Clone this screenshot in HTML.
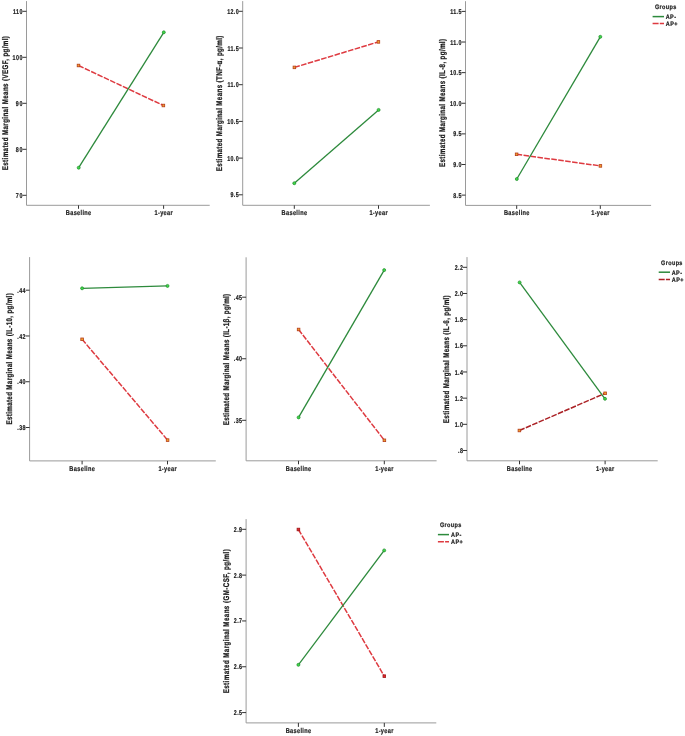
<!DOCTYPE html>
<html><head><meta charset="utf-8"><style>
html,body{margin:0;padding:0;background:#fff;}
body{width:685px;height:736px;overflow:hidden;}
svg{display:block;will-change:transform;filter:blur(0.3px);}
text{font-family:"Liberation Sans",sans-serif;font-weight:bold;fill:#1a1a1a;stroke:#1a1a1a;stroke-width:0.2px;text-rendering:geometricPrecision;}
.tk{font-size:7px;text-anchor:end;}
.xl{font-size:7px;text-anchor:middle;}
.yl{font-size:8.2px;text-anchor:middle;stroke-width:0.25px;}
.lg{font-size:6.5px;}
</style></head><body>
<svg width="685" height="736" viewBox="0 0 685 736">
<rect width="685" height="736" fill="#fff"/>
<g>
<path d="M26.5 1.1V205.3H209.7" fill="none" stroke="#9a9a9a" stroke-width="1"/>
<path d="M22.5 11.3H26.5" stroke="#333" stroke-width="1"/>
<text transform="translate(22.40 13.85) scale(0.76 1)" class="tk" textLength="12.48" lengthAdjust="spacing">110</text>
<path d="M22.5 57.3H26.5" stroke="#333" stroke-width="1"/>
<text transform="translate(22.40 59.85) scale(0.76 1)" class="tk" textLength="12.91" lengthAdjust="spacing">100</text>
<path d="M22.5 103.3H26.5" stroke="#333" stroke-width="1"/>
<text transform="translate(22.40 105.85) scale(0.76 1)" class="tk" textLength="8.61" lengthAdjust="spacing">90</text>
<path d="M22.5 149.3H26.5" stroke="#333" stroke-width="1"/>
<text transform="translate(22.40 151.85) scale(0.76 1)" class="tk" textLength="8.61" lengthAdjust="spacing">80</text>
<path d="M22.5 195.3H26.5" stroke="#333" stroke-width="1"/>
<text transform="translate(22.40 197.85) scale(0.76 1)" class="tk" textLength="8.61" lengthAdjust="spacing">70</text>
<path d="M78.5 205.3V208.8" stroke="#333" stroke-width="1"/>
<text transform="translate(78.50 214.70) scale(0.8 1)" class="xl" textLength="31.85" lengthAdjust="spacing">Baseline</text>
<path d="M163.6 205.3V208.8" stroke="#333" stroke-width="1"/>
<text transform="translate(163.60 214.70) scale(0.8 1)" class="xl" textLength="22.82" lengthAdjust="spacing">1-year</text>
<text transform="translate(7.55,103.15) rotate(-90) scale(0.76,1)" class="yl" textLength="176.58" lengthAdjust="spacing">Estimated Marginal Means (VEGF, pg/ml)</text>
<path d="M78.5 65.5L163.4 105.5" stroke="#de3a40" stroke-width="1.5" stroke-dasharray="5.6 1.4" fill="none"/>
<path d="M78.7 167.7L163.8 32.3" stroke="#2d8a3c" stroke-width="1.3" fill="none"/>
<rect x="77.2" y="64.2" width="2.6" height="2.6" fill="#f2a02a" stroke="#b43c1c" stroke-width="0.8"/>
<rect x="162.1" y="104.2" width="2.6" height="2.6" fill="#f2a02a" stroke="#b43c1c" stroke-width="0.8"/>
<circle cx="78.7" cy="167.7" r="1.5" fill="#3fd84a" stroke="#1f8a2a" stroke-width="0.7"/>
<circle cx="163.8" cy="32.3" r="1.5" fill="#3fd84a" stroke="#1f8a2a" stroke-width="0.7"/>
</g>
<g>
<path d="M242.7 1.1V205.3H429.9" fill="none" stroke="#9a9a9a" stroke-width="1"/>
<path d="M238.7 11.3H242.7" stroke="#333" stroke-width="1"/>
<text transform="translate(238.60 13.85) scale(0.76 1)" class="tk" textLength="15.06" lengthAdjust="spacing">12.0</text>
<path d="M238.7 48.0H242.7" stroke="#333" stroke-width="1"/>
<text transform="translate(238.60 50.55) scale(0.76 1)" class="tk" textLength="14.63" lengthAdjust="spacing">11.5</text>
<path d="M238.7 84.7H242.7" stroke="#333" stroke-width="1"/>
<text transform="translate(238.60 87.25) scale(0.76 1)" class="tk" textLength="14.63" lengthAdjust="spacing">11.0</text>
<path d="M238.7 121.4H242.7" stroke="#333" stroke-width="1"/>
<text transform="translate(238.60 123.95) scale(0.76 1)" class="tk" textLength="15.06" lengthAdjust="spacing">10.5</text>
<path d="M238.7 158.10000000000002H242.7" stroke="#333" stroke-width="1"/>
<text transform="translate(238.60 160.65) scale(0.76 1)" class="tk" textLength="15.06" lengthAdjust="spacing">10.0</text>
<path d="M238.7 194.8H242.7" stroke="#333" stroke-width="1"/>
<text transform="translate(238.60 197.35) scale(0.76 1)" class="tk" textLength="10.76" lengthAdjust="spacing">9.5</text>
<path d="M294.3 205.3V208.8" stroke="#333" stroke-width="1"/>
<text transform="translate(294.30 214.70) scale(0.8 1)" class="xl" textLength="31.85" lengthAdjust="spacing">Baseline</text>
<path d="M378.5 205.3V208.8" stroke="#333" stroke-width="1"/>
<text transform="translate(378.50 214.70) scale(0.8 1)" class="xl" textLength="22.82" lengthAdjust="spacing">1-year</text>
<text transform="translate(221.7,103.4) rotate(-90) scale(0.76,1)" class="yl" textLength="178.29" lengthAdjust="spacing">Estimated Marginal Means (TNF-α, pg/ml)</text>
<path d="M294.4 67.4L378.4 41.9" stroke="#de3a40" stroke-width="1.5" stroke-dasharray="5.6 1.4" fill="none"/>
<path d="M294.3 183.2L378.6 109.9" stroke="#2d8a3c" stroke-width="1.3" fill="none"/>
<rect x="293.1" y="66.1" width="2.6" height="2.6" fill="#f2a02a" stroke="#b43c1c" stroke-width="0.8"/>
<rect x="377.1" y="40.6" width="2.6" height="2.6" fill="#f2a02a" stroke="#b43c1c" stroke-width="0.8"/>
<circle cx="294.3" cy="183.2" r="1.5" fill="#3fd84a" stroke="#1f8a2a" stroke-width="0.7"/>
<circle cx="378.6" cy="109.9" r="1.5" fill="#3fd84a" stroke="#1f8a2a" stroke-width="0.7"/>
</g>
<g>
<path d="M465.5 1.2V205.4H651.1" fill="none" stroke="#9a9a9a" stroke-width="1"/>
<path d="M461.5 11.4H465.5" stroke="#333" stroke-width="1"/>
<text transform="translate(461.40 13.95) scale(0.76 1)" class="tk" textLength="14.63" lengthAdjust="spacing">11.5</text>
<path d="M461.5 42.02H465.5" stroke="#333" stroke-width="1"/>
<text transform="translate(461.40 44.57) scale(0.76 1)" class="tk" textLength="14.63" lengthAdjust="spacing">11.0</text>
<path d="M461.5 72.64H465.5" stroke="#333" stroke-width="1"/>
<text transform="translate(461.40 75.19) scale(0.76 1)" class="tk" textLength="15.06" lengthAdjust="spacing">10.5</text>
<path d="M461.5 103.26H465.5" stroke="#333" stroke-width="1"/>
<text transform="translate(461.40 105.81) scale(0.76 1)" class="tk" textLength="15.06" lengthAdjust="spacing">10.0</text>
<path d="M461.5 133.88H465.5" stroke="#333" stroke-width="1"/>
<text transform="translate(461.40 136.43) scale(0.76 1)" class="tk" textLength="10.76" lengthAdjust="spacing">9.5</text>
<path d="M461.5 164.5H465.5" stroke="#333" stroke-width="1"/>
<text transform="translate(461.40 167.05) scale(0.76 1)" class="tk" textLength="10.76" lengthAdjust="spacing">9.0</text>
<path d="M461.5 195.12H465.5" stroke="#333" stroke-width="1"/>
<text transform="translate(461.40 197.67) scale(0.76 1)" class="tk" textLength="10.76" lengthAdjust="spacing">8.5</text>
<path d="M516.7 205.4V208.9" stroke="#333" stroke-width="1"/>
<text transform="translate(516.70 214.80) scale(0.8 1)" class="xl" textLength="31.85" lengthAdjust="spacing">Baseline</text>
<path d="M600.3 205.4V208.9" stroke="#333" stroke-width="1"/>
<text transform="translate(600.30 214.80) scale(0.8 1)" class="xl" textLength="22.82" lengthAdjust="spacing">1-year</text>
<text transform="translate(444.6,103.0) rotate(-90) scale(0.76,1)" class="yl" textLength="168.42" lengthAdjust="spacing">Estimated Marginal Means (IL-8, pg/ml)</text>
<path d="M516.6 154.3L600.4 165.9" stroke="#de3a40" stroke-width="1.5" stroke-dasharray="5.6 1.4" fill="none"/>
<path d="M516.8 179.0L600.3 36.8" stroke="#2d8a3c" stroke-width="1.3" fill="none"/>
<rect x="515.3" y="153.0" width="2.6" height="2.6" fill="#f2a02a" stroke="#b43c1c" stroke-width="0.8"/>
<rect x="599.1" y="164.6" width="2.6" height="2.6" fill="#f2a02a" stroke="#b43c1c" stroke-width="0.8"/>
<circle cx="516.8" cy="179.0" r="1.5" fill="#3fd84a" stroke="#1f8a2a" stroke-width="0.7"/>
<circle cx="600.3" cy="36.8" r="1.5" fill="#3fd84a" stroke="#1f8a2a" stroke-width="0.7"/>
<text transform="translate(654.90 9.15) scale(0.85 1)" class="lg" textLength="25.10" lengthAdjust="spacing">Groups</text>
<path d="M652.6 16.6H664" stroke="#2d8a3c" stroke-width="1.5"/>
<path d="M652.6 23.6H664" stroke="#de3a40" stroke-width="1.5" stroke-dasharray="6 1.2"/>
<text transform="translate(665.70 18.95) scale(0.85 1)" class="lg" textLength="12.16" lengthAdjust="spacing">AP-</text>
<text transform="translate(665.70 26.05) scale(0.85 1)" class="lg" textLength="13.93" lengthAdjust="spacing">AP+</text>
</g>
<g>
<path d="M29.6 257.1V460.9H215.8" fill="none" stroke="#9a9a9a" stroke-width="1"/>
<path d="M25.6 290.2H29.6" stroke="#333" stroke-width="1"/>
<text transform="translate(25.50 292.75) scale(0.76 1)" class="tk" textLength="10.76" lengthAdjust="spacing">.44</text>
<path d="M25.6 335.96999999999997H29.6" stroke="#333" stroke-width="1"/>
<text transform="translate(25.50 338.52) scale(0.76 1)" class="tk" textLength="10.76" lengthAdjust="spacing">.42</text>
<path d="M25.6 381.74H29.6" stroke="#333" stroke-width="1"/>
<text transform="translate(25.50 384.29) scale(0.76 1)" class="tk" textLength="10.76" lengthAdjust="spacing">.40</text>
<path d="M25.6 427.51H29.6" stroke="#333" stroke-width="1"/>
<text transform="translate(25.50 430.06) scale(0.76 1)" class="tk" textLength="10.76" lengthAdjust="spacing">.38</text>
<path d="M82.1 460.9V464.4" stroke="#333" stroke-width="1"/>
<text transform="translate(82.10 470.80) scale(0.8 1)" class="xl" textLength="31.85" lengthAdjust="spacing">Baseline</text>
<path d="M167.5 460.9V464.4" stroke="#333" stroke-width="1"/>
<text transform="translate(167.50 470.80) scale(0.8 1)" class="xl" textLength="22.82" lengthAdjust="spacing">1-year</text>
<text transform="translate(12.2,358.85) rotate(-90) scale(0.76,1)" class="yl" textLength="172.63" lengthAdjust="spacing">Estimated Marginal Means (IL-10, pg/ml)</text>
<path d="M82.1 339.3L167.6 440.1" stroke="#de3a40" stroke-width="1.5" stroke-dasharray="5.6 1.4" fill="none"/>
<path d="M82.1 288.3L167.5 285.9" stroke="#2d8a3c" stroke-width="1.3" fill="none"/>
<rect x="80.8" y="338.0" width="2.6" height="2.6" fill="#f2a02a" stroke="#b43c1c" stroke-width="0.8"/>
<rect x="166.3" y="438.8" width="2.6" height="2.6" fill="#f2a02a" stroke="#b43c1c" stroke-width="0.8"/>
<circle cx="82.1" cy="288.3" r="1.5" fill="#3fd84a" stroke="#1f8a2a" stroke-width="0.7"/>
<circle cx="167.5" cy="285.9" r="1.5" fill="#3fd84a" stroke="#1f8a2a" stroke-width="0.7"/>
</g>
<g>
<path d="M246.1 257.3V460.8H436.6" fill="none" stroke="#9a9a9a" stroke-width="1"/>
<path d="M242.1 297.2H246.1" stroke="#333" stroke-width="1"/>
<text transform="translate(242.00 299.75) scale(0.76 1)" class="tk" textLength="10.76" lengthAdjust="spacing">.45</text>
<path d="M242.1 358.75H246.1" stroke="#333" stroke-width="1"/>
<text transform="translate(242.00 361.30) scale(0.76 1)" class="tk" textLength="10.76" lengthAdjust="spacing">.40</text>
<path d="M242.1 420.29999999999995H246.1" stroke="#333" stroke-width="1"/>
<text transform="translate(242.00 422.85) scale(0.76 1)" class="tk" textLength="10.76" lengthAdjust="spacing">.35</text>
<path d="M298.5 460.8V464.3" stroke="#333" stroke-width="1"/>
<text transform="translate(298.50 470.70) scale(0.8 1)" class="xl" textLength="31.85" lengthAdjust="spacing">Baseline</text>
<path d="M384.3 460.8V464.3" stroke="#333" stroke-width="1"/>
<text transform="translate(384.30 470.70) scale(0.8 1)" class="xl" textLength="22.82" lengthAdjust="spacing">1-year</text>
<text transform="translate(229.1,359.6) rotate(-90) scale(0.76,1)" class="yl" textLength="173.03" lengthAdjust="spacing">Estimated Marginal Means (IL-1β, pg/ml)</text>
<path d="M298.6 329.5L384.4 440.3" stroke="#de3a40" stroke-width="1.5" stroke-dasharray="5.6 1.4" fill="none"/>
<path d="M298.6 417.4L384.2 270.1" stroke="#2d8a3c" stroke-width="1.3" fill="none"/>
<rect x="297.3" y="328.2" width="2.6" height="2.6" fill="#f2a02a" stroke="#b43c1c" stroke-width="0.8"/>
<rect x="383.1" y="439.0" width="2.6" height="2.6" fill="#f2a02a" stroke="#b43c1c" stroke-width="0.8"/>
<circle cx="298.6" cy="417.4" r="1.5" fill="#3fd84a" stroke="#1f8a2a" stroke-width="0.7"/>
<circle cx="384.2" cy="270.1" r="1.5" fill="#3fd84a" stroke="#1f8a2a" stroke-width="0.7"/>
</g>
<g>
<path d="M467.0 257.1V460.8H657.7" fill="none" stroke="#9a9a9a" stroke-width="1"/>
<path d="M463.0 267.3H467.0" stroke="#333" stroke-width="1"/>
<text transform="translate(462.90 269.85) scale(0.76 1)" class="tk" textLength="10.76" lengthAdjust="spacing">2.2</text>
<path d="M463.0 293.47H467.0" stroke="#333" stroke-width="1"/>
<text transform="translate(462.90 296.02) scale(0.76 1)" class="tk" textLength="10.76" lengthAdjust="spacing">2.0</text>
<path d="M463.0 319.64H467.0" stroke="#333" stroke-width="1"/>
<text transform="translate(462.90 322.19) scale(0.76 1)" class="tk" textLength="10.76" lengthAdjust="spacing">1.8</text>
<path d="M463.0 345.81H467.0" stroke="#333" stroke-width="1"/>
<text transform="translate(462.90 348.36) scale(0.76 1)" class="tk" textLength="10.76" lengthAdjust="spacing">1.6</text>
<path d="M463.0 371.98H467.0" stroke="#333" stroke-width="1"/>
<text transform="translate(462.90 374.53) scale(0.76 1)" class="tk" textLength="10.76" lengthAdjust="spacing">1.4</text>
<path d="M463.0 398.15000000000003H467.0" stroke="#333" stroke-width="1"/>
<text transform="translate(462.90 400.70) scale(0.76 1)" class="tk" textLength="10.76" lengthAdjust="spacing">1.2</text>
<path d="M463.0 424.32000000000005H467.0" stroke="#333" stroke-width="1"/>
<text transform="translate(462.90 426.87) scale(0.76 1)" class="tk" textLength="10.76" lengthAdjust="spacing">1.0</text>
<path d="M463.0 450.49H467.0" stroke="#333" stroke-width="1"/>
<text transform="translate(462.90 453.04) scale(0.76 1)" class="tk" textLength="6.45" lengthAdjust="spacing">.8</text>
<path d="M519.5 460.8V464.3" stroke="#333" stroke-width="1"/>
<text transform="translate(519.50 470.70) scale(0.8 1)" class="xl" textLength="31.85" lengthAdjust="spacing">Baseline</text>
<path d="M605.1 460.8V464.3" stroke="#333" stroke-width="1"/>
<text transform="translate(605.10 470.70) scale(0.8 1)" class="xl" textLength="22.82" lengthAdjust="spacing">1-year</text>
<text transform="translate(449.3,359.25) rotate(-90) scale(0.76,1)" class="yl" textLength="168.16" lengthAdjust="spacing">Estimated Marginal Means (IL-6, pg/ml)</text>
<path d="M519.4 430.5L605.1 393.3" stroke="#ab2125" stroke-width="1.5" stroke-dasharray="5.6 1.4" fill="none"/>
<path d="M519.6 282.4L605.0 398.8" stroke="#2d8a3c" stroke-width="1.3" fill="none"/>
<rect x="518.1" y="429.2" width="2.6" height="2.6" fill="#f2a02a" stroke="#b43c1c" stroke-width="0.8"/>
<rect x="603.8" y="392.0" width="2.6" height="2.6" fill="#f2a02a" stroke="#b43c1c" stroke-width="0.8"/>
<circle cx="519.6" cy="282.4" r="1.5" fill="#3fd84a" stroke="#1f8a2a" stroke-width="0.7"/>
<circle cx="605.0" cy="398.8" r="1.5" fill="#3fd84a" stroke="#1f8a2a" stroke-width="0.7"/>
<text transform="translate(661.10 264.65) scale(0.85 1)" class="lg" textLength="25.10" lengthAdjust="spacing">Groups</text>
<path d="M658.7 272.2H670" stroke="#2d8a3c" stroke-width="1.5"/>
<path d="M658.7 279.4H670" stroke="#ab2125" stroke-width="1.5" stroke-dasharray="6 1.2"/>
<text transform="translate(671.70 274.85) scale(0.85 1)" class="lg" textLength="12.16" lengthAdjust="spacing">AP-</text>
<text transform="translate(671.70 281.95) scale(0.85 1)" class="lg" textLength="13.93" lengthAdjust="spacing">AP+</text>
</g>
<g>
<path d="M246.1 519.1V722.9H436.3" fill="none" stroke="#9a9a9a" stroke-width="1"/>
<path d="M242.1 529.3H246.1" stroke="#333" stroke-width="1"/>
<text transform="translate(242.00 531.85) scale(0.76 1)" class="tk" textLength="10.76" lengthAdjust="spacing">2.9</text>
<path d="M242.1 575.12H246.1" stroke="#333" stroke-width="1"/>
<text transform="translate(242.00 577.67) scale(0.76 1)" class="tk" textLength="10.76" lengthAdjust="spacing">2.8</text>
<path d="M242.1 620.9399999999999H246.1" stroke="#333" stroke-width="1"/>
<text transform="translate(242.00 623.49) scale(0.76 1)" class="tk" textLength="10.76" lengthAdjust="spacing">2.7</text>
<path d="M242.1 666.76H246.1" stroke="#333" stroke-width="1"/>
<text transform="translate(242.00 669.31) scale(0.76 1)" class="tk" textLength="10.76" lengthAdjust="spacing">2.6</text>
<path d="M242.1 712.5799999999999H246.1" stroke="#333" stroke-width="1"/>
<text transform="translate(242.00 715.13) scale(0.76 1)" class="tk" textLength="10.76" lengthAdjust="spacing">2.5</text>
<path d="M298.4 722.9V726.9" stroke="#333" stroke-width="1"/>
<text transform="translate(298.40 733.10) scale(0.8 1)" class="xl" textLength="31.85" lengthAdjust="spacing">Baseline</text>
<path d="M384.3 722.9V726.9" stroke="#333" stroke-width="1"/>
<text transform="translate(384.30 733.10) scale(0.8 1)" class="xl" textLength="22.82" lengthAdjust="spacing">1-year</text>
<text transform="translate(228.5,621.3) rotate(-90) scale(0.76,1)" class="yl" textLength="189.61" lengthAdjust="spacing">Estimated Marginal Means (GM-CSF, pg/ml)</text>
<path d="M298.4 529.5L384.3 676.2" stroke="#de3a40" stroke-width="1.5" stroke-dasharray="5.6 1.4" fill="none"/>
<path d="M298.4 664.8L384.2 550.4" stroke="#2d8a3c" stroke-width="1.3" fill="none"/>
<rect x="297.1" y="528.2" width="2.6" height="2.6" fill="#e8242c" stroke="#9c1a1a" stroke-width="0.8"/>
<rect x="383.0" y="674.9" width="2.6" height="2.6" fill="#e8242c" stroke="#9c1a1a" stroke-width="0.8"/>
<circle cx="298.4" cy="664.8" r="1.5" fill="#3fd84a" stroke="#1f8a2a" stroke-width="0.7"/>
<circle cx="384.2" cy="550.4" r="1.5" fill="#3fd84a" stroke="#1f8a2a" stroke-width="0.7"/>
<text transform="translate(439.90 527.15) scale(0.85 1)" class="lg" textLength="25.10" lengthAdjust="spacing">Groups</text>
<path d="M437.9 534.6H449" stroke="#2d8a3c" stroke-width="1.5"/>
<path d="M437.9 541.7H449" stroke="#de3a40" stroke-width="1.5" stroke-dasharray="6 1.2"/>
<text transform="translate(451.00 536.90) scale(0.85 1)" class="lg" textLength="12.16" lengthAdjust="spacing">AP-</text>
<text transform="translate(451.00 544.00) scale(0.85 1)" class="lg" textLength="13.93" lengthAdjust="spacing">AP+</text>
</g>
</svg>
</body></html>
